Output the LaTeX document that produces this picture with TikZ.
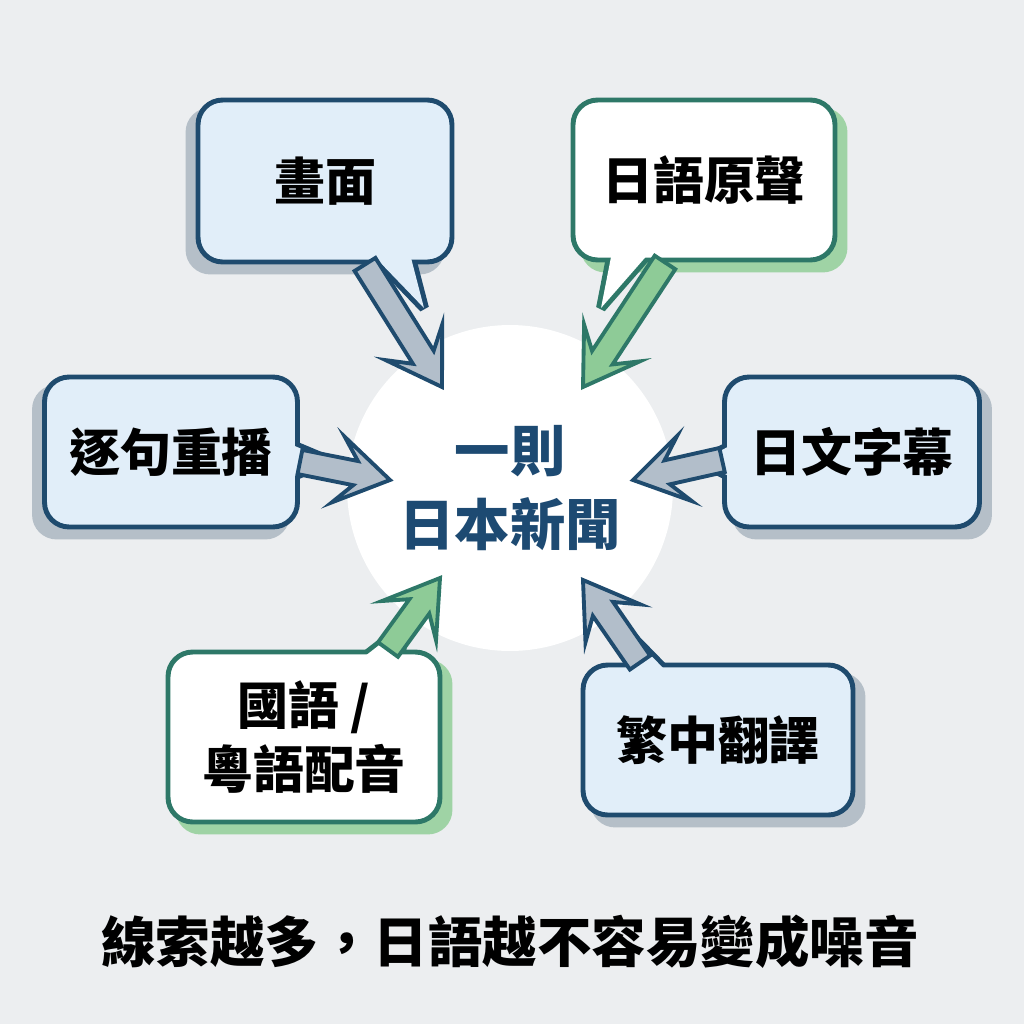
\documentclass[tikz,border=0pt]{standalone}
\usepackage{fontspec}
\setmainfont{Noto Sans CJK TC}
\usetikzlibrary{calc,backgrounds}
\definecolor{bgcol}{HTML}{ECEEF0}
\definecolor{navy}{HTML}{1F4B6E}
\definecolor{bluefill}{HTML}{E1EEF9}
\definecolor{grayshadow}{HTML}{B5BFC8}
\definecolor{grayarrow}{HTML}{B2BECA}
\definecolor{tealline}{HTML}{2E7868}
\definecolor{greenshadow}{HTML}{9FD3A5}
\definecolor{greenarrow}{HTML}{8ECB97}
\definecolor{newsblue}{HTML}{1D4A72}
\tikzset{
  bubble/.style={draw=navy, fill=bluefill, line width=2.8pt, rounded corners=14pt,
    inner sep=0pt, align=center, font=\fontsize{29}{36}\selectfont\bfseries},
  gbubble/.style={bubble, draw=tealline, fill=white},
  btail/.style={fill=bluefill, draw=navy, line width=5.6pt, line join=miter, miter limit=2},
  gtail/.style={fill=white, draw=tealline, line width=5.6pt, line join=miter, miter limit=2},
  barrow/.style={fill=grayarrow, draw=navy, line width=2.2pt, line join=miter},
  garrow/.style={fill=greenarrow, draw=tealline, line width=2.2pt, line join=miter}}
% fat outlined arrow from #2 to #3
\newcommand{\fatarrow}[3]{%
  \coordinate (fa-j) at ($(#3)!20pt!(#2)$);
  \coordinate (fa-b) at ($(#3)!30pt!(#2)$);
  \draw[#1] ($(#2)!7pt!90:(#3)$) -- ($(fa-j)!7pt!90:(#3)$) -- ($(fa-b)!19pt!90:(#3)$)
    -- (#3) -- ($(fa-b)!19pt!-90:(#3)$) -- ($(fa-j)!7pt!-90:(#3)$)
    -- ($(#2)!7pt!-90:(#3)$) -- cycle;}
% shadow behind a bubble
\newcommand{\bshadow}[4]{%
  \fill[#2, rounded corners=14pt] ($(#1.south west)+(#3,#4)$) rectangle ($(#1.north east)+(#3,#4)$);}

\begin{document}
\begin{tikzpicture}[x=0.02cm, y=-0.02cm]
  \useasboundingbox (0,0) rectangle (1024,1024);
  % centre
  \node[circle, fill=white, minimum size=6.52cm, inner sep=0pt, align=center,
    text=newsblue, font=\fontsize{31.5}{42}\selectfont\bfseries] (news) at (510,488) {一則\\日本新聞};
  % bubbles
  \node[bubble, minimum width=5.08cm, minimum height=3.24cm] (hua) at (325,181) {畫面};
  \node[gbubble, minimum width=5.24cm, minimum height=3.2cm] (voice) at (704,180) {日語原聲};
  \node[bubble, minimum width=5.06cm, minimum height=3cm] (replay) at (171,452) {逐句重播};
  \node[bubble, minimum width=5.1cm, minimum height=3cm] (subs) at (852,452) {日文字幕};
  \node[gbubble, minimum width=5.44cm, minimum height=3.4cm] (dub) at (304,737) {國語 /\\粵語配音};
  \node[bubble, minimum width=5.4cm, minimum height=3cm] (trans) at (718,740) {繁中翻譯};
  \node[font=\fontsize{31}{36}\selectfont\bfseries] (caption) at (510,942) {線索越多，日語越不容易變成噪音};
  \begin{scope}[on background layer]
    \fill[bgcol] (0,0) rectangle (1024,1024);
    \bshadow{hua}{grayshadow}{-10}{10}
    \bshadow{voice}{greenshadow}{10}{10}
    \bshadow{replay}{grayshadow}{-10}{10}
    \bshadow{subs}{grayshadow}{10}{10}
    \bshadow{dub}{greenshadow}{10}{10}
    \bshadow{trans}{grayshadow}{10}{10}
    % tails
    \filldraw[btail] (372,254) -- (424,308) -- (410,254) -- cycle;
    \filldraw[gtail] (612,252) -- (601,308) -- (650,252) -- cycle;
    \filldraw[btail] (290,444) -- (328,460) -- (290,478) -- cycle;
    \filldraw[btail] (733,444) -- (700,462) -- (733,478) -- cycle;
    \filldraw[gtail] (360,660) -- (405,625) -- (400,660) -- cycle;
    \filldraw[btail] (628,673) -- (628,632) -- (668,673) -- cycle;
  \end{scope}
  \fill[bluefill] (372,254) -- (424,308) -- (410,254) -- cycle;
  \fill[white] (612,252) -- (601,308) -- (650,252) -- cycle;
  \fill[bluefill] (290,444) -- (328,460) -- (290,478) -- cycle;
  \fill[bluefill] (733,444) -- (700,462) -- (733,478) -- cycle;
  \fill[white] (360,660) -- (405,625) -- (400,660) -- cycle;
  \fill[bluefill] (628,673) -- (628,632) -- (668,673) -- cycle;
  % arrows into the news
  \coordinate (a1s) at ($(hua.south)+(40,0)$);
  \coordinate (a1t) at ($(news.center)+(-68,-101)$);
  \coordinate (a2s) at ($(voice.south)+(-39,0)$);
  \coordinate (a2t) at ($(news.center)+(73,-101)$);
  \coordinate (a3s) at ($(replay.east)+(0,10)$);
  \coordinate (a3t) at ($(news.center)+(-120,-8)$);
  \coordinate (a4s) at ($(subs.west)+(0,8)$);
  \coordinate (a4t) at ($(news.center)+(123,-8)$);
  \coordinate (a5s) at ($(dub.north)+(84,0)$);
  \coordinate (a5t) at ($(news.center)+(-70,90)$);
  \coordinate (a6s) at ($(trans.north)+(-78,0)$);
  \coordinate (a6t) at ($(news.center)+(73,92)$);
  \fatarrow{barrow}{a1s}{a1t}
  \fatarrow{garrow}{a2s}{a2t}
  \fatarrow{barrow}{a3s}{a3t}
  \fatarrow{barrow}{a4s}{a4t}
  \fatarrow{garrow}{a5s}{a5t}
  \fatarrow{barrow}{a6s}{a6t}
\end{tikzpicture}
\end{document}
